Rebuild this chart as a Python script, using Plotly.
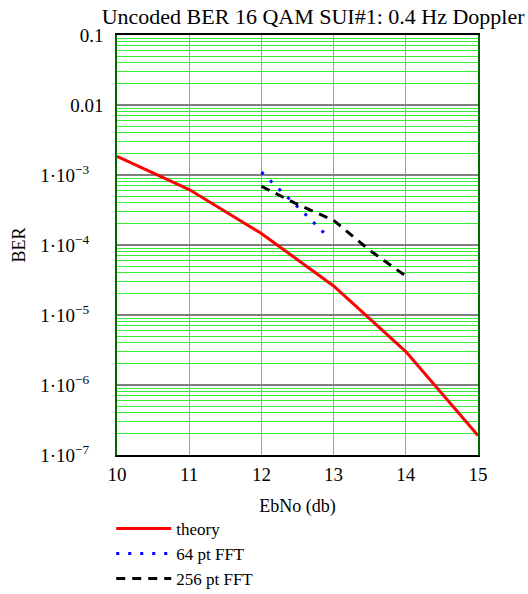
import plotly.graph_objects as go

# ---- data ----
ebno_theory = [10, 11, 12, 13, 14, 15]
ber_theory = [1.85e-3, 6.2e-4, 1.46e-4, 2.6e-5, 3.0e-6, 1.9e-7]

ebno_64 = [12.0, 12.3, 12.6, 12.9]
ber_64 = [1.1e-3, 5.6e-4, 2.8e-4, 1.38e-4]

ebno_256 = [12.0, 12.5, 13.0, 13.5, 14.0]
ber_256 = [6.9e-4, 3.8e-4, 2.25e-4, 8.4e-5, 3.6e-5]

y_tickvals = [1e-7, 1e-6, 1e-5, 1e-4, 1e-3, 1e-2, 1e-1]
y_ticktext = ["1\u00b710<sup>\u22127</sup>", "1\u00b710<sup>\u22126</sup>", "1\u00b710<sup>\u22125</sup>",
              "1\u00b710<sup>\u22124</sup>", "1\u00b710<sup>\u22123</sup>", "0.01", "0.1"]
x_tickvals = [10, 11, 12, 13, 14, 15]

minor_vals = [m * 10.0 ** e for e in range(-7, -1) for m in range(2, 10)]

FONT = "Liberation Serif"
GREEN = "#33ee33"
PAD = "\u00a0\u00a0\u00a0"

fig = go.Figure()
fig.add_trace(go.Scatter(x=ebno_theory, y=ber_theory, mode="lines", name="theory",
                         line=dict(color="#ff0000", width=3)))
fig.add_trace(go.Scatter(x=ebno_64, y=ber_64, mode="lines", name="64 pt FFT",
                         line=dict(color="#0000ff", width=3, dash="3px,9px")))
fig.add_trace(go.Scatter(x=ebno_256, y=ber_256, mode="lines", name="256 pt FFT",
                         line=dict(color="#000000", width=3, dash="9px,7px")))

# black decade line at 1e-4 (middle of the 6-decade axis)
fig.add_shape(type="line", xref="x domain", yref="y domain", x0=0, x1=1, y0=0.5, y1=0.5,
              line=dict(color="black", width=1.5), layer="below")

fig.update_layout(
    width=528, height=594,
    margin=dict(l=117, r=50, t=35, b=139, autoexpand=False),
    paper_bgcolor="white", plot_bgcolor="white",
    font=dict(family=FONT, size=18, color="black"),
    title=dict(text="Uncoded BER 16 QAM SUI#1: 0.4 Hz Doppler", x=0.593, xanchor="center",
               y=0.973, yanchor="middle", font=dict(family=FONT, size=22)),
    showlegend=True,
    legend=dict(x=-0.016, xanchor="left", y=-0.133, yanchor="top", bgcolor="rgba(0,0,0,0)",
                font=dict(family=FONT, size=17), tracegroupgap=0, itemwidth=55),
    xaxis=dict(range=[10, 15], tickvals=x_tickvals, showgrid=True, gridcolor=GREEN, gridwidth=1,
               showline=True, linecolor="black", linewidth=1.5, mirror=True, zeroline=False,
               ticks="outside", ticklen=1, tickcolor="rgba(0,0,0,0)", automargin=False,
               title=dict(text="EbNo (db)", standoff=16, font=dict(size=18)),
               tickfont=dict(size=19)),
    yaxis=dict(type="log", range=[-7, -1], tickvals=y_tickvals,
               ticktext=[t + PAD if "sup" in t else t for t in y_ticktext],
               showgrid=True, gridcolor="#808080", gridwidth=1.5,
               minor=dict(tickvals=minor_vals, showgrid=True, gridcolor=GREEN, gridwidth=1, ticks=""),
               showline=True, linecolor="#006400", linewidth=1.5, mirror=True, zeroline=False,
               ticks="outside", ticklen=8, tickcolor="rgba(0,0,0,0)", automargin=False,
               title=dict(text="BER", standoff=10, font=dict(size=18)),
               tickfont=dict(size=19)),
)

fig.write_html("out.html", config={"displayModeBar": False},
               post_script="document.body.style.margin='0';")
